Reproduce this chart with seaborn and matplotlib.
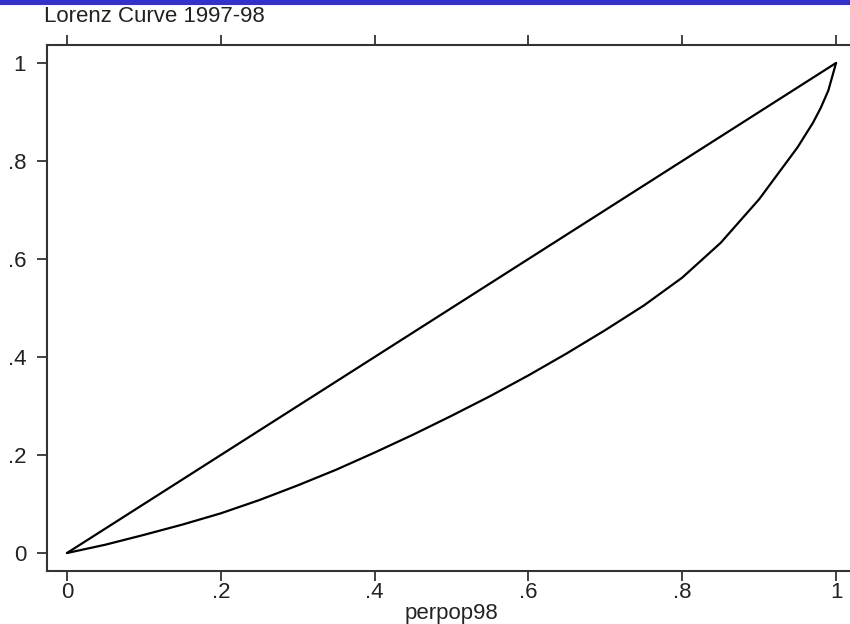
import numpy as np
import pandas as pd
import matplotlib
matplotlib.use("Agg")
import matplotlib.pyplot as plt
import seaborn as sns

# ---- data ----
perpop98 = [0.0, 0.05, 0.10, 0.15, 0.20, 0.25, 0.30, 0.35, 0.40, 0.45, 0.50,
            0.55, 0.60, 0.65, 0.70, 0.75, 0.80, 0.85, 0.90, 0.95, 0.97, 0.98, 0.99, 1.0]
lorenz = [0.0, 0.017, 0.037, 0.058, 0.081, 0.108, 0.138, 0.170, 0.205, 0.2415, 0.280,
          0.320, 0.3625, 0.4075, 0.455, 0.505, 0.562, 0.633, 0.722, 0.828, 0.878, 0.908, 0.944, 1.0]
equality_x = [0.0, 1.0]
equality_y = [0.0, 1.0]
xticks = [0, 0.2, 0.4, 0.6, 0.8, 1.0]
xticklabels = ["0", ".2", ".4", ".6", ".8", "1"]
yticks = [0, 0.2, 0.4, 0.6, 0.8, 1.0]
yticklabels = ["0", ".2", ".4", ".6", ".8", "1"]
title = "Lorenz Curve 1997-98"
xlabel = "perpop98"

sns.set_style("white")
plt.rcParams['font.family'] = ['Liberation Sans', 'DejaVu Sans']

W, H = 850, 624
fig = plt.figure(figsize=(W / 100, H / 100), dpi=100)
fig.patch.set_facecolor("white")

# blue bar at top
fig.patches.append(matplotlib.patches.Rectangle((0, 1 - 5 / H), 1, 5 / H,
                   transform=fig.transFigure, facecolor="#3232c8", edgecolor="none", zorder=10))

left_px, right_px, top_px, bot_px = 47, 874.5, 45, 571
ax = fig.add_axes([left_px / W, (H - bot_px) / H, (right_px - left_px) / W, (bot_px - top_px) / H])

df_eq = pd.DataFrame({"x": equality_x, "y": equality_y})
df_lz = pd.DataFrame({"x": perpop98, "y": lorenz})
sns.lineplot(data=df_eq, x="x", y="y", ax=ax, color="black", linewidth=1.6, sort=False)
sns.lineplot(data=df_lz, x="x", y="y", ax=ax, color="black", linewidth=1.6, sort=False)

ax.set_xlim(-0.026, 1.05)
ax.set_ylim(-0.0367, 1.0367)
ax.set_xticks(xticks)
ax.set_xticklabels(xticklabels)
ax.set_yticks(yticks)
ax.set_yticklabels(yticklabels)

for s in ["left", "bottom", "top"]:
    ax.spines[s].set_visible(True)
    ax.spines[s].set_color("#333333")
    ax.spines[s].set_linewidth(1.5)
ax.spines["right"].set_visible(False)

ax.tick_params(axis="x", which="both", direction="out", length=7, width=1.3, color="#333333",
               top=True, bottom=True, labeltop=False, labelsize=16, pad=1, labelcolor="#222222")
ax.tick_params(axis="y", which="both", direction="out", length=7, width=1.3, color="#333333",
               left=True, right=False, labelsize=16, pad=8, labelcolor="#222222")

ax.set_ylabel("")
ax.set_xlabel(xlabel, fontsize=16, color="#222222")
ax.xaxis.set_label_coords((451 - left_px) / (right_px - left_px), (bot_px - 603) / (bot_px - top_px))

fig.text(44 / W, 1 - 6 / H, title, ha="left", va="top", fontsize=16, color="#222222")

fig.savefig("out.png", dpi=100)
